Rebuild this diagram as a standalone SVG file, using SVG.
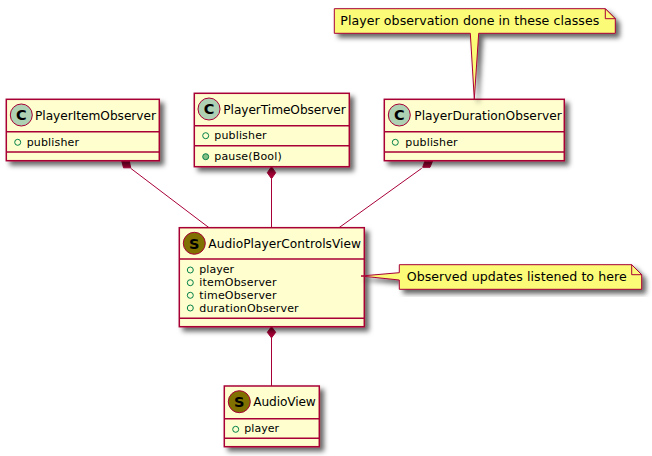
<svg xmlns="http://www.w3.org/2000/svg" width="652" height="456" viewBox="0 0 652 456">
<style>
text{font-family:"DejaVu Sans",sans-serif;fill:#000}
.h{font-size:12.2px}
.n{font-size:12.6px}
.m{font-size:11px}
.box{fill:#FEFECE;stroke:#A80036;stroke-width:1.5}
.ln{stroke:#A80036;stroke-width:1.5;fill:none}
.c{stroke:#A80036;stroke-width:1;fill:none}
.d{fill:#A80036;stroke:#A80036;stroke-width:1}
.note{fill:#FBFB77;stroke:#A80036;stroke-width:1}
.cc{fill:#ADD1B2;stroke:#A80036;stroke-width:1}
.cs{fill:#7F7000;stroke:#A80036;stroke-width:1}
.ic{fill:none;stroke:#038048;stroke-width:1}
.if{fill:#84BE84;stroke:#038048;stroke-width:1}
.g{font-size:14.500px;font-weight:bold;font-family:"DejaVu Sans",sans-serif}
</style>
<defs>
<filter id="s" x="-20%" y="-20%" width="150%" height="150%"><feDropShadow dx="4" dy="4" stdDeviation="2.500" flood-color="#000" flood-opacity="0.6"/></filter>
</defs>
<g id="connectors">
<path class="c" d="M130.700 168.300L209 227.700"/>
<path class="d" d="M121.700 160.700L123.500 167.800L130.700 167.800L129.300 160.700Z"/>
<path class="c" d="M271.500 179L271.500 227.700"/>
<path class="d" d="M271.500 166.700L267.300 172.700L271.500 178.700L275.700 172.700Z"/>
<path class="c" d="M421.700 168.300L339 227.700"/>
<path class="d" d="M425 160.700L422.700 167.300L430 167.300L432.700 160.700Z"/>
<path class="c" d="M271.500 338L271.500 386"/>
<path class="d" d="M271.500 326.700L267.300 332.300L271.500 337.900L275.700 332.300Z"/>
</g>
<g id="PlayerItemObserver">
<rect class="box" x="6.300" y="99.300" width="153" height="61.400" filter="url(#s)"/>
<circle class="cc" cx="21.300" cy="115" r="11"/>
<text class="g" x="21.300" y="120.200" text-anchor="middle">C</text>
<text class="h" x="35" y="120" textLength="121">PlayerItemObserver</text>
<path class="ln" d="M6.300 131.700H159.300M6.300 152H159.300"/>
<circle class="ic" cx="17.700" cy="142.300" r="3"/>
<text class="m" x="26.700" y="146" textLength="52.300">publisher</text>
</g>
<g id="PlayerTimeObserver">
<rect class="box" x="194.300" y="93.300" width="155" height="73.400" filter="url(#s)"/>
<circle class="cc" cx="209" cy="109" r="11"/>
<text class="g" x="209" y="114.200" text-anchor="middle">C</text>
<text class="h" x="223.300" y="113.500" textLength="122.500">PlayerTimeObserver</text>
<path class="ln" d="M194.300 125.700H349.300M194.300 145.700H349.300"/>
<circle class="ic" cx="205.700" cy="135.700" r="3"/>
<text class="m" x="214.300" y="139.300" textLength="52.300">publisher</text>
<circle class="if" cx="205.700" cy="156.700" r="3"/>
<text class="m" x="214.300" y="160" textLength="67.400">pause(Bool)</text>
</g>
<g id="PlayerDurationObserver">
<rect class="box" x="384.300" y="99.300" width="180" height="61.400" filter="url(#s)"/>
<circle class="cc" cx="399.300" cy="115" r="11"/>
<text class="g" x="399.300" y="120.200" text-anchor="middle">C</text>
<text class="h" x="414.300" y="120" textLength="147.400">PlayerDurationObserver</text>
<path class="ln" d="M384.300 131.700H564.300M384.300 152H564.300"/>
<circle class="ic" cx="395.300" cy="142.300" r="3"/>
<text class="m" x="405.300" y="146" textLength="52.300">publisher</text>
</g>
<g id="note1">
<path class="note" filter="url(#s)" d="M334.300 8.700H605.300L615.300 18.700V33.300H478.700L474.300 99L470.300 33.300H334.300Z"/>
<path class="note" d="M605.300 8.700V18.700H615.300Z"/>
<text class="n" x="340.300" y="25" textLength="259">Player observation done in these classes</text>
</g>
<g id="AudioPlayerControlsView">
<rect class="box" x="179.300" y="227.700" width="185" height="99" filter="url(#s)"/>
<circle class="cs" cx="194.300" cy="243.300" r="11"/>
<text class="g" x="194.300" y="248.500" text-anchor="middle">S</text>
<text class="h" x="208.300" y="247.500" textLength="152.700">AudioPlayerControlsView</text>
<path class="ln" d="M179.300 259H364.300M179.300 318.300H364.300"/>
<circle class="ic" cx="190.300" cy="270" r="3"/>
<text class="m" x="199.300" y="273" textLength="34.700">player</text>
<circle class="ic" cx="190.300" cy="282.700" r="3"/>
<text class="m" x="199.300" y="286" textLength="77.300">itemObserver</text>
<circle class="ic" cx="190.300" cy="295.300" r="3"/>
<text class="m" x="199.300" y="299" textLength="77.300">timeObserver</text>
<circle class="ic" cx="190.300" cy="308" r="3"/>
<text class="m" x="199.300" y="312" textLength="99.300">durationObserver</text>
</g>
<g id="AudioView">
<rect class="box" x="224.300" y="386" width="95" height="60.700" filter="url(#s)"/>
<circle class="cs" cx="239.300" cy="401.700" r="11"/>
<text class="g" x="239.300" y="406.900" text-anchor="middle">S</text>
<text class="h" x="253.300" y="406" textLength="62.400">AudioView</text>
<path class="ln" d="M224.300 418.700H319.300M224.300 438.300H319.300"/>
<circle class="ic" cx="235.700" cy="429.300" r="3"/>
<text class="m" x="244.300" y="432" textLength="34.700">player</text>
</g>
<g id="note2">
<path class="note" filter="url(#s)" d="M399.300 264.700H631.700L641.700 274.700V289.300H399.300V280L361 276L399.300 272.700Z"/>
<path class="note" d="M631.700 264.700V274.700H641.700Z"/>
<text class="n" x="406.700" y="280.700" textLength="220">Observed updates listened to here</text>
</g>
</svg>
